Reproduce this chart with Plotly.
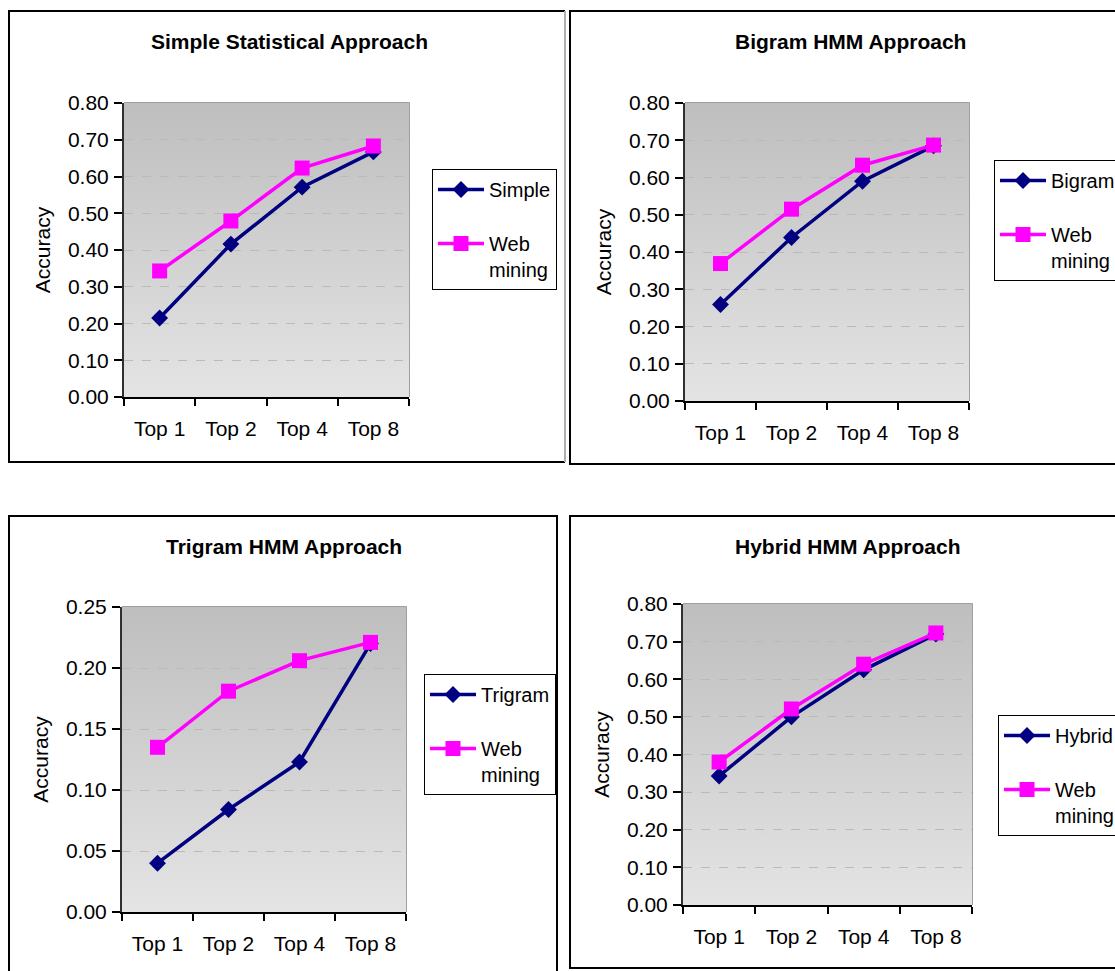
import base64
import plotly.graph_objects as go

W, H = 1115, 971

# ---- data ----
categories = ["Top 1", "Top 2", "Top 4", "Top 8"]

simple = [0.215, 0.416, 0.571, 0.667]
web_simple = [0.343, 0.479, 0.623, 0.683]

bigram = [0.259, 0.439, 0.590, 0.685]
web_bigram = [0.369, 0.515, 0.633, 0.687]

trigram = [0.040, 0.084, 0.123, 0.220]
web_trigram = [0.135, 0.181, 0.206, 0.221]

hybrid = [0.343, 0.500, 0.625, 0.720]
web_hybrid = [0.380, 0.521, 0.640, 0.723]

titles = ["Simple Statistical Approach", "Bigram HMM Approach",
          "Trigram HMM Approach", "Hybrid HMM Approach"]
method_names = ["Simple", "Bigram", "Trigram", "Hybrid"]
method_series = [simple, bigram, trigram, hybrid]
web_series = [web_simple, web_bigram, web_trigram, web_hybrid]
web_name = "Web<br>mining"

# ---- styling / layout (pixel boxes) ----
FONT = "Arial, Liberation Sans, sans-serif"
NAVY = "#000080"
MAGENTA = "#FF00FF"

# plot areas: (left, top, right, bottom) in pixels
plot_boxes = [(124, 103, 409, 397), (685, 103, 969, 401),
              (122, 607, 406, 912), (683, 604, 972, 905)]
y_ranges = [(0, 0.8, 0.1), (0, 0.8, 0.1), (0, 0.25, 0.05), (0, 0.8, 0.1)]
title_pos = [(290, 41), (850, 41), (284, 546), (848, 546)]
legend_pos = [(432, 169), (994, 160), (424, 674), (998, 715)]


def px(x):
    return x / W


def py(y):
    return 1 - y / H


grad_svg = (
    '<svg xmlns="http://www.w3.org/2000/svg" width="100" height="100" '
    'viewBox="0 0 100 100" preserveAspectRatio="none">'
    '<defs><linearGradient id="g" x1="0" y1="0" x2="0" y2="1">'
    '<stop offset="0" stop-color="#BEBEBE"/>'
    '<stop offset="1" stop-color="#E4E4E4"/>'
    '</linearGradient></defs>'
    '<rect width="100" height="100" fill="url(#g)"/></svg>'
)
grad_uri = "data:image/svg+xml;base64," + base64.b64encode(grad_svg.encode()).decode()

fig = go.Figure()
layout = dict(
    width=W, height=H,
    margin=dict(l=0, r=0, t=0, b=0, autoexpand=False),
    paper_bgcolor="white",
    plot_bgcolor="rgba(0,0,0,0)",
    font=dict(family=FONT, size=21, color="black"),
    annotations=[], shapes=[], images=[],
)

for i in range(4):
    n = "" if i == 0 else str(i + 1)
    xa, ya = "x" + n, "y" + n
    leg = "legend" + n
    l, t, r, b = plot_boxes[i]
    y0, y1, dt = y_ranges[i]

    fig.add_trace(go.Scatter(
        x=categories, y=method_series[i], name=method_names[i],
        xaxis=xa, yaxis=ya, legend=leg, legendgroup="m" + n,
        mode="lines+markers",
        line=dict(color=NAVY, width=3.5),
        marker=dict(symbol="diamond", size=13, color=NAVY),
    ))
    fig.add_trace(go.Scatter(
        x=categories, y=web_series[i], name=web_name,
        xaxis=xa, yaxis=ya, legend=leg, legendgroup="w" + n,
        mode="lines+markers",
        line=dict(color=MAGENTA, width=3.5),
        marker=dict(symbol="square", size=15, color=MAGENTA),
    ))

    layout["xaxis" + n] = dict(
        domain=[px(l), px(r)], anchor=ya, automargin=False,
        type="category", range=[-0.5, 3.5],
        showgrid=False, zeroline=False,
        showline=True, linecolor="#000000", linewidth=2,
        ticks="outside", tickson="boundaries", ticklen=7,
        tickcolor="#000000", tickwidth=1.5,
        ticklabelstandoff=12,
        tickfont=dict(size=21, family=FONT),
    )
    layout["yaxis" + n] = dict(
        domain=[py(b), py(t)], anchor=xa, automargin=False,
        range=[y0, y1], dtick=dt, tick0=0, tickformat=".2f",
        showgrid=True, gridcolor="#BABABA", griddash="dash", gridwidth=1,
        zeroline=False,
        showline=True, linecolor="#303030", linewidth=2,
        ticks="outside", ticklen=8, tickcolor="#000000", tickwidth=1.5,
        ticklabelstandoff=1,
        tickfont=dict(size=21, family=FONT),
        title=dict(text="Accuracy", font=dict(size=21, family=FONT), standoff=12),
    )
    layout[leg] = dict(
        x=px(legend_pos[i][0]), y=py(legend_pos[i][1]),
        xanchor="left", yanchor="top",
        bgcolor="white", bordercolor="#000000", borderwidth=1,
        font=dict(size=20, family=FONT),
        traceorder="grouped", tracegroupgap=25, valign="top",
        itemwidth=46,
    )

    xd, yd = xa + " domain", ya + " domain"
    layout["images"].append(dict(
        source=grad_uri, xref=xd, yref=yd, x=0, y=1, sizex=1, sizey=1,
        xanchor="left", yanchor="top", sizing="stretch", layer="below",
    ))
    # grey frame on the top and right sides of the plot area
    layout["shapes"].append(dict(
        type="path", xref=xd, yref=yd, path="M 0 1 L 1 1 L 1 0",
        line=dict(color="#808080", width=1.5), layer="below",
    ))
    layout["annotations"].append(dict(
        text="<b>" + titles[i] + "</b>", xref="paper", yref="paper",
        x=px(title_pos[i][0]), y=py(title_pos[i][1]),
        xanchor="center", yanchor="middle", showarrow=False,
        font=dict(size=21, family=FONT, color="black"),
    ))

# outer chart frames
frame_paths = [
    ("M {} {} L {} {} L {} {} L {} {}", [(565, 11), (9, 11), (9, 462), (565, 462)], "#000000"),
    ("M {} {} L {} {}", [(565, 11), (565, 462)], "#B0B0B0"),
    ("M {} {} L {} {} L {} {} L {} {}", [(1120, 11), (570, 11), (570, 464), (1120, 464)], "#000000"),
    ("M {} {} L {} {} L {} {} L {} {}", [(9, 980), (9, 516), (557, 516), (557, 980)], "#000000"),
    ("M {} {} L {} {} L {} {} L {} {}", [(1120, 516), (570, 516), (570, 968), (1120, 968)], "#000000"),
]
for fmt, pts, col in frame_paths:
    coords = []
    for xx, yy in pts:
        coords += [px(xx), py(yy)]
    layout["shapes"].append(dict(
        type="path", xref="paper", yref="paper", path=fmt.format(*coords),
        line=dict(color=col, width=2),
    ))

fig.update_layout(**layout)
fig.write_html("out.html")
